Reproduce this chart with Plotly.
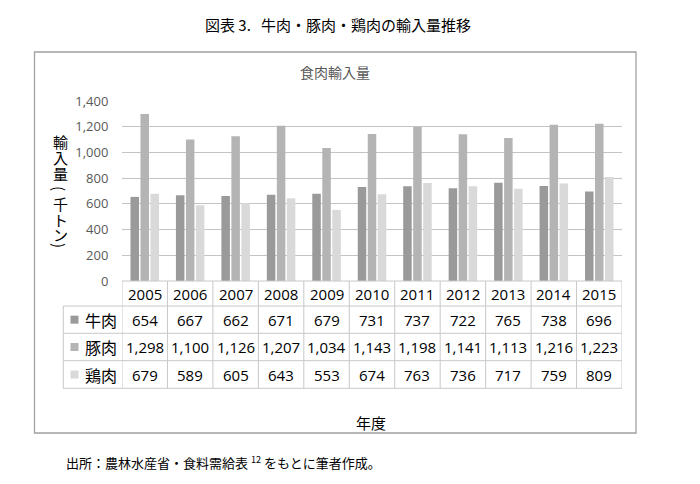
import plotly.graph_objects as go

# ---- data ----
years = ['2005', '2006', '2007', '2008', '2009', '2010', '2011', '2012', '2013', '2014', '2015']
series_names = ['牛肉', '豚肉', '鶏肉']
beef = [654, 667, 662, 671, 679, 731, 737, 722, 765, 738, 696]
pork = [1298, 1100, 1126, 1207, 1034, 1143, 1198, 1141, 1113, 1216, 1223]
chicken = [679, 589, 605, 643, 553, 674, 763, 736, 717, 759, 809]
y_ticks = [0, 200, 400, 600, 800, 1000, 1200, 1400]

main_title = '図表 3.\u00a0\u00a0\u00a0牛肉・豚肉・鶏肉の輸入量推移'
chart_title = '食肉輸入量'
y_title_chars = ['輸', '入', '量', '(', '千', 'ト', 'ン', ')']
x_title = '年度'
footnote = '出所：農林水産省・食料需給表 <sup>12</sup> をもとに筆者作成。'

colors = ['#9a9a9a', '#b4b4b4', '#d9d9d9']

# page has an 8px body margin; size the figure so it fits the 700x484 window
OFF = 8
W, H = 700 - OFF, 484 - OFF


def px(p):
    return (p - OFF) / W


def py(p):
    return 1 - (p - OFF) / H


CJK = 'Noto Sans CJK JP'
NUM = 'Open Sans'

fig = go.Figure()
for name, vals, c in zip(series_names, [beef, pork, chicken], colors):
    fig.add_trace(go.Bar(x=years, y=vals, name=name, marker=dict(color=c, line=dict(width=0)),
                         hoverinfo='x+y+name'))

n = len(years)
plot_left, plot_right = 122, 622
plot_bottom, plot_top = 281, 101

fig.update_layout(
    width=W, height=H,
    autosize=False,
    margin=dict(l=0, r=0, t=0, b=0, pad=0),
    paper_bgcolor='white', plot_bgcolor='white',
    showlegend=False,
    barmode='group', bargap=0.34, bargroupgap=0.15,
    xaxis=dict(domain=[px(plot_left), px(plot_right)], showticklabels=False, showgrid=False,
               zeroline=False, showline=False, ticks='', type='category',
               range=[-0.5, n - 0.5], autorange=False, automargin=False),
    yaxis=dict(domain=[py(plot_bottom), py(plot_top)], range=[0, 1400], tickvals=y_ticks,
               tickformat=',', showgrid=True, gridcolor='#c4c4c4', gridwidth=1,
               zeroline=False, showline=False, ticks='outside', ticklen=10, tickcolor='white',
               automargin=False,
               tickfont=dict(family=NUM, size=13, color='#595959')),
)

shapes = []
annotations = []

# outer box
shapes.append(dict(type='rect', xref='paper', yref='paper', x0=px(34.5), x1=px(636),
                   y0=py(433), y1=py(52), line=dict(color='#a0a0a0', width=1.3)))

# table
row_edges = [281, 306, 333.3, 360.7, 388.3]
line_col = '#c8c8c8'
shapes.append(dict(type='line', xref='x', yref='paper', x0=-0.5, x1=n - 0.5,
                   y0=py(row_edges[0]), y1=py(row_edges[0]), line=dict(color=line_col, width=1)))
for ye in row_edges[1:]:
    shapes.append(dict(type='line', xref='paper', yref='paper', x0=px(63.3), x1=px(plot_left),
                       y0=py(ye), y1=py(ye), line=dict(color=line_col, width=1)))
    shapes.append(dict(type='line', xref='x', yref='paper', x0=-0.5, x1=n - 0.5,
                       y0=py(ye), y1=py(ye), line=dict(color=line_col, width=1)))
shapes.append(dict(type='line', xref='paper', yref='paper', x0=px(63.3), x1=px(63.3),
                   y0=py(row_edges[1]), y1=py(row_edges[-1]), line=dict(color=line_col, width=1)))
for i in range(n + 1):
    shapes.append(dict(type='line', xref='x', yref='paper', x0=i - 0.5, x1=i - 0.5,
                       y0=py(row_edges[0]), y1=py(row_edges[-1]), line=dict(color=line_col, width=1)))

# header years
for i, yr in enumerate(years):
    annotations.append(dict(x=i, xref='x', y=py((row_edges[0] + row_edges[1]) / 2), yref='paper',
                            text=yr, showarrow=False, xanchor='center', yanchor='middle',
                            font=dict(family=NUM, size=15, color='black')))

# data rows
for r, (name, vals, c) in enumerate(zip(series_names, [beef, pork, chicken], colors)):
    yc = (row_edges[r + 1] + row_edges[r + 2]) / 2
    shapes.append(dict(type='rect', xref='paper', yref='paper', x0=px(70.5), x1=px(78.5),
                       y0=py(yc + 4), y1=py(yc - 4), fillcolor=c, line=dict(width=0)))
    annotations.append(dict(x=px(83), xref='paper', y=py(yc), yref='paper', text=name,
                            showarrow=False, xanchor='left', yanchor='middle',
                            font=dict(family=CJK, size=16, color='black')))
    for i, v in enumerate(vals):
        annotations.append(dict(x=i, xref='x', y=py(yc), yref='paper', text=f'{v:,}',
                                showarrow=False, xanchor='center', yanchor='middle',
                                font=dict(family=NUM, size=15, color='black')))

# titles
annotations.append(dict(x=px(338), y=py(25), xref='paper', yref='paper', text=main_title,
                        showarrow=False, xanchor='center', yanchor='middle',
                        font=dict(family=CJK, size=15, color='black')))
annotations.append(dict(x=px(335), y=py(72), xref='paper', yref='paper', text=chart_title,
                        showarrow=False, xanchor='center', yanchor='middle',
                        font=dict(family=CJK, size=14, color='#595959')))
annotations.append(dict(x=px(371), y=py(422), xref='paper', yref='paper', text=x_title,
                        showarrow=False, xanchor='center', yanchor='middle',
                        font=dict(family=CJK, size=15, color='black')))
ycs = [141, 157, 173, 188, 203, 219, 234, 245]
for ch, yc in zip(y_title_chars, ycs):
    is_paren = ch in '()'
    annotations.append(dict(x=px(60), y=py(yc), xref='paper', yref='paper', text=ch,
                            showarrow=False, xanchor='center', yanchor='middle',
                            textangle=90 if is_paren else 0,
                            font=dict(family=CJK, size=15, color='black')))
annotations.append(dict(x=px(64), y=py(462), xref='paper', yref='paper', text=footnote,
                        showarrow=False, xanchor='left', yanchor='middle',
                        font=dict(family=CJK, size=13, color='black')))

fig.update_layout(shapes=shapes, annotations=annotations)
fig.write_html('out.html', config={'responsive': False})
